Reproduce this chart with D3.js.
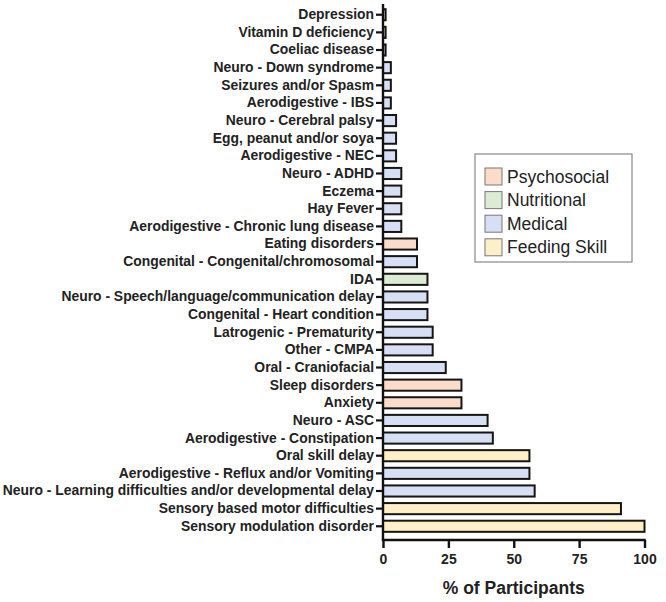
<!DOCTYPE html>
<html>
<head>
<meta charset="utf-8">
<script src="https://cdn.jsdelivr.net/npm/d3@7"></script>
<style>
  body { margin: 0; background: #fff; }
  svg { display: block; font-family: "Liberation Sans", Arial, sans-serif; }
</style>
</head>
<body>
<svg id="chart"></svg>
<script>
// categories from top to bottom
const categories = [
  "Depression", "Vitamin D deficiency", "Coeliac disease", "Neuro - Down syndrome",
  "Seizures and/or Spasm", "Aerodigestive - IBS", "Neuro - Cerebral palsy",
  "Egg, peanut and/or soya", "Aerodigestive - NEC", "Neuro - ADHD", "Eczema",
  "Hay Fever", "Aerodigestive - Chronic lung disease", "Eating disorders",
  "Congenital - Congenital/chromosomal", "IDA",
  "Neuro - Speech/language/communication delay", "Congenital - Heart condition",
  "Latrogenic - Prematurity", "Other - CMPA", "Oral - Craniofacial",
  "Sleep disorders", "Anxiety", "Neuro - ASC", "Aerodigestive - Constipation",
  "Oral skill delay", "Aerodigestive - Reflux and/or Vomiting",
  "Neuro - Learning difficulties and/or developmental delay",
  "Sensory based motor difficulties", "Sensory modulation disorder"
];
const values = [
  1, 1, 1, 3, 3, 3, 5, 5, 5, 7, 7, 7, 7, 13, 13, 17, 17, 17, 19, 19,
  24, 30, 30, 40, 42, 56, 56, 58, 91, 100
];
const groups = [
  "Psychosocial", "Nutritional", "Medical", "Medical", "Medical", "Medical", "Medical",
  "Medical", "Medical", "Medical", "Medical", "Medical", "Medical", "Psychosocial",
  "Medical", "Nutritional", "Medical", "Medical", "Medical", "Medical",
  "Medical", "Psychosocial", "Psychosocial", "Medical", "Medical",
  "Feeding Skill", "Medical", "Medical", "Feeding Skill", "Feeding Skill"
];
const legendNames = ["Psychosocial", "Nutritional", "Medical", "Feeding Skill"];
const legendColors = ["#fbdccb", "#dcecd4", "#d7dff4", "#fdefc6"];
const xTicks = [0, 25, 50, 75, 100];

const width = 666, height = 602;
const svg = d3.select("#chart").attr("width", width).attr("height", height);

const x = d3.scaleLinear().domain([0, 100]).range([383, 644.5]);
const y = d3.scaleBand().domain(categories).range([6, 535]).paddingInner(0.37).paddingOuter(0.18);
const color = d3.scaleOrdinal().domain(legendNames).range(legendColors);

const data = categories.map((c, i) => ({ cat: c, val: values[i], grp: groups[i] }));

// bars
svg.selectAll(".bar")
  .data(data)
  .enter()
  .append("rect")
  .attr("class", "bar")
  .attr("x", x(0))
  .attr("y", d => y(d.cat))
  .attr("width", d => x(d.val) - x(0))
  .attr("height", y.bandwidth())
  .attr("fill", d => color(d.grp))
  .attr("stroke", "#151515")
  .attr("stroke-width", 2);

// y axis
const yAxis = svg.append("g")
  .attr("transform", `translate(${x(0)},0)`)
  .call(d3.axisLeft(y).tickSize(7).tickPadding(2));
yAxis.select(".domain").remove();
yAxis.selectAll(".tick line").attr("stroke", "#111").attr("stroke-width", 2.2);
yAxis.selectAll(".tick text")
  .attr("fill", "#222")
  .style("font-size", "13.9px")
  .style("font-weight", "bold");

svg.append("line")
  .attr("x1", x(0)).attr("x2", x(0))
  .attr("y1", 4).attr("y2", 540)
  .attr("stroke", "#111").attr("stroke-width", 2.4);

// x axis
const xAxis = svg.append("g")
  .attr("transform", "translate(0,540)")
  .call(d3.axisBottom(x).tickValues(xTicks).tickSize(8).tickPadding(6));
xAxis.select(".domain").remove();
xAxis.selectAll(".tick line").attr("stroke", "#111").attr("stroke-width", 2.4);
xAxis.selectAll(".tick text")
  .attr("fill", "#222")
  .style("font-size", "14px")
  .style("font-weight", "bold");

svg.append("line")
  .attr("x1", x(0) - 1.2).attr("x2", x(100) + 1.2)
  .attr("y1", 540).attr("y2", 540)
  .attr("stroke", "#111").attr("stroke-width", 2.4);

svg.append("text")
  .attr("x", (x(0) + x(100)) / 2)
  .attr("y", 594)
  .attr("text-anchor", "middle")
  .attr("fill", "#222")
  .style("font-size", "17.5px")
  .style("font-weight", "bold")
  .text("% of Participants");

// legend
const legend = svg.append("g").attr("transform", "translate(475,154)");
legend.append("rect")
  .attr("width", 157).attr("height", 108)
  .attr("fill", "#fff").attr("stroke", "#888").attr("stroke-width", 1.2);

const items = legend.selectAll(".item")
  .data(legendNames)
  .enter()
  .append("g")
  .attr("transform", (d, i) => `translate(10,${14 + i * 23.6})`);
items.append("rect")
  .attr("width", 17).attr("height", 17)
  .attr("fill", d => color(d))
  .attr("stroke", "#777").attr("stroke-width", 1);
items.append("text")
  .attr("x", 22).attr("y", 14.5)
  .attr("fill", "#222")
  .style("font-size", "17.5px")
  .text(d => d);
</script>
</body>
</html>
